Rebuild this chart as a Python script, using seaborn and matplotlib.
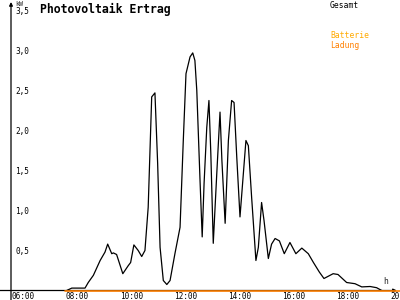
import numpy as np
import pandas as pd
import matplotlib
matplotlib.use("Agg")
import matplotlib.pyplot as plt
import matplotlib.transforms as mtransforms
import seaborn as sns

# ---- data ----
hours = [7.95, 8.14, 8.63, 8.75, 8.94, 9.19, 9.37, 9.47, 9.62, 9.68, 9.80,
         10.03, 10.23, 10.32, 10.44, 10.60, 10.73, 10.85, 10.97, 11.10, 11.22,
         11.32, 11.41, 11.53, 11.66, 11.78, 11.96, 12.15, 12.27, 12.37, 12.52,
         12.62, 12.70, 12.77, 12.89, 12.97, 13.04, 13.14, 13.22, 13.29, 13.38,
         13.51, 13.63, 13.70, 13.82, 13.94, 14.06, 14.15, 14.25, 14.37, 14.59,
         14.68, 14.80, 14.96, 15.05, 15.17, 15.26, 15.42, 15.54, 15.67, 15.83,
         16.01, 16.22, 16.44, 16.66, 16.90, 17.09, 17.31, 17.48, 17.82, 18.00,
         18.32, 18.63, 18.88, 19.19, 19.43, 19.62]
gesamt_kw = [0.00, 0.03, 0.03, 0.10, 0.19, 0.375, 0.48, 0.58, 0.46, 0.47, 0.45,
             0.21, 0.31, 0.35, 0.57, 0.50, 0.425, 0.50, 1.04, 2.42, 2.47,
             1.59, 0.54, 0.125, 0.075, 0.125, 0.46, 0.79, 1.875, 2.71, 2.92,
             2.97, 2.875, 2.50, 1.375, 0.67, 1.34, 2.04, 2.375, 1.71, 0.59,
             1.46, 2.23, 1.625, 0.84, 1.875, 2.375, 2.35, 1.67, 0.92, 1.875,
             1.81, 1.17, 0.375, 0.54, 1.10, 0.875, 0.40, 0.58, 0.65, 0.62,
             0.46, 0.60, 0.46, 0.53, 0.46, 0.35, 0.23, 0.15, 0.21, 0.20,
             0.10, 0.085, 0.045, 0.05, 0.035, 0.00]
batterie_hours = [7.9, 20.3]
batterie_kw = [0.0, 0.0]

x_ticks = [6, 8, 10, 12, 14, 16, 18, 20]
x_tick_labels = ["06:00", "08:00", "10:00", "12:00", "14:00", "16:00", "18:00", "20:00"]
y_ticks = [0.5, 1.0, 1.5, 2.0, 2.5, 3.0, 3.5]
y_tick_labels = ["0,5", "1,0", "1,5", "2,0", "2,5", "3,0", "3,5"]

title = "Photovoltaik Ertrag"
legend_labels = ["Gesamt", "Batterie", "Ladung"]

# ---- style ----
sns.set_style("white")
plt.rcParams['font.family'] = ['DejaVu Sans Mono', 'DejaVu Sans']

fig = plt.figure(figsize=(4, 3), dpi=100)
W, H = 400.0, 300.0
x0_px, x1_px = 11.0, 400.0
y0_px, y1_px = 290.5, 2.0
ax = fig.add_axes([x0_px / W, 1 - y0_px / H, (x1_px - x0_px) / W, (y0_px - y1_px) / H])
ax.set_facecolor("white")

px_per_h = 27.0
px_per_kw = 80.0
t_min = 6 - (14 - x0_px) / px_per_h
ax.set_xlim(t_min, t_min + (x1_px - x0_px) / px_per_h)
ax.set_ylim(0, (y0_px - y1_px) / px_per_kw)

df = pd.DataFrame({"h": hours, "kw": gesamt_kw})
sns.lineplot(data=df, x="h", y="kw", ax=ax, color="black", lw=0.9,
             estimator=None, sort=False, zorder=4)

for s in ax.spines.values():
    s.set_visible(False)

# axes with arrows
ax.annotate("", xy=(0, 1.0), xytext=(0, -9.5 / (y0_px - y1_px)),
            xycoords="axes fraction", textcoords="axes fraction",
            arrowprops=dict(arrowstyle="-|>", lw=0.9, color="black",
                            shrinkA=0, shrinkB=0, mutation_scale=5), zorder=3)
ax.annotate("", xy=(0.992, 0), xytext=(-x0_px / (x1_px - x0_px), 0),
            xycoords="axes fraction", textcoords="axes fraction",
            arrowprops=dict(arrowstyle="-|>", lw=0.9, color="black",
                            shrinkA=0, shrinkB=0, mutation_scale=5), zorder=3)

bdf = pd.DataFrame({"h": batterie_hours, "kw": batterie_kw})
sns.lineplot(data=bdf, x="h", y="kw", ax=ax, color="#FF8000", lw=1.2,
             estimator=None, clip_on=False, zorder=6)

ax.set_xlabel("")
ax.set_ylabel("")
ax.set_xticks(x_ticks)
ax.set_xticklabels(x_tick_labels)
ax.set_yticks(y_ticks)
ax.set_yticklabels(y_tick_labels)
ax.tick_params(axis="both", direction="inout", length=4.5, width=0.8,
               colors="black", labelsize=5.6)
ax.tick_params(axis="x", pad=-1.4)
ax.tick_params(axis="y", pad=-5.5)
offx = mtransforms.ScaledTranslation(-2 / 100, 0, fig.dpi_scale_trans)
for lab in ax.get_xticklabels():
    lab.set_ha("left")
    lab.set_transform(lab.get_transform() + offx)
for lab in ax.get_yticklabels():
    lab.set_ha("left")

# texts
fig.text(40 / W, 1 - 2.5 / H, title, fontsize=8.3, weight="bold",
         ha="left", va="top", color="black")
fig.text(15 / W, 1 - 1.0 / H, "kW", fontsize=4.8, ha="left", va="top")
fig.text(383 / W, 1 - 277 / H, "h", fontsize=5.8, ha="left", va="top")
fig.text(330 / W, 1 - 1.0 / H, legend_labels[0], fontsize=5.8, ha="left", va="top",
         color="black")
fig.text(330 / W, 1 - 31.5 / H, legend_labels[1], fontsize=5.8, ha="left", va="top",
         color="#FFAA00")
fig.text(330 / W, 1 - 40.5 / H, legend_labels[2], fontsize=5.8, ha="left", va="top",
         color="#FF8000")

fig.savefig("out.png", dpi=100)
